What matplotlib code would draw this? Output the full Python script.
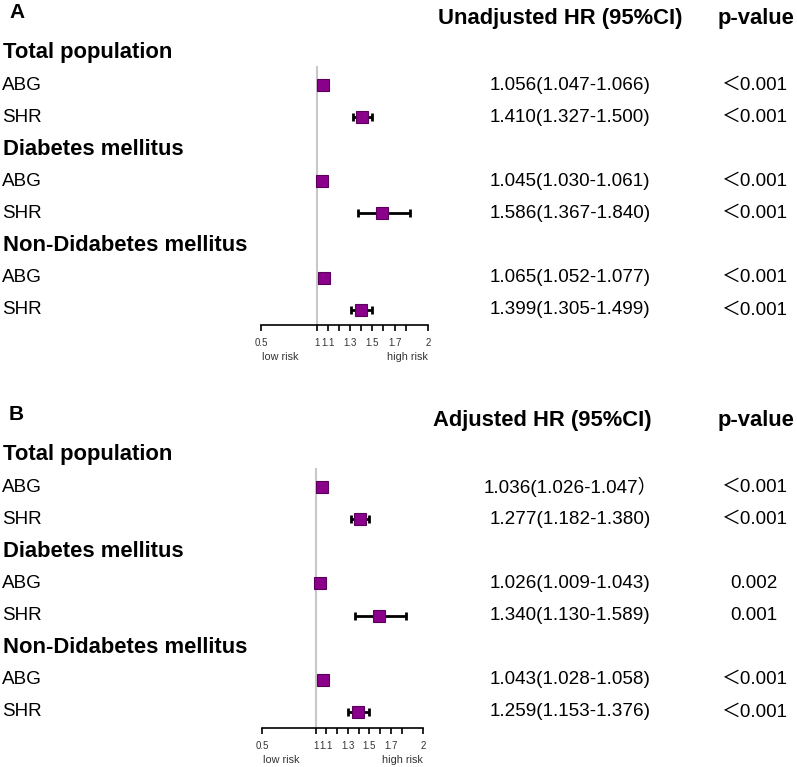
import matplotlib.pyplot as plt
import matplotlib.transforms as mtransforms
import numpy as np

plt.rcParams['font.family'] = ['Liberation Sans', 'Noto Sans CJK SC', 'DejaVu Sans']

groups = ['Total population', 'Diabetes mellitus', 'Non-Didabetes mellitus']
items = ['ABG', 'SHR']

# unadjusted model
hr_a = [1.056, 1.410, 1.045, 1.586, 1.065, 1.399]
lo_a = [1.047, 1.327, 1.030, 1.367, 1.052, 1.305]
hi_a = [1.066, 1.500, 1.061, 1.840, 1.077, 1.499]
txt_a = ['1.056(1.047-1.066)', '1.410(1.327-1.500)', '1.045(1.030-1.061)',
         '1.586(1.367-1.840)', '1.065(1.052-1.077)', '1.399(1.305-1.499)']
p_a = ['＜0.001', '＜0.001', '＜0.001', '＜0.001', '＜0.001', '＜0.001']

# adjusted model (the forest marks in panel B sit where panel A's do)
hr_b = [1.056, 1.410, 1.045, 1.586, 1.065, 1.399]
lo_b = [1.047, 1.327, 1.030, 1.367, 1.052, 1.305]
hi_b = [1.066, 1.500, 1.061, 1.840, 1.077, 1.499]
txt_b = ['1.036(1.026-1.047）', '1.277(1.182-1.380)', '1.026(1.009-1.043)',
         '1.340(1.130-1.589)', '1.043(1.028-1.058)', '1.259(1.153-1.376)']
p_b = ['＜0.001', '＜0.001', '0.002', '0.001', '＜0.001', '＜0.001']

tick_vals = [0.5, 1, 1.1, 1.3, 1.5, 1.7, 2]
tick_labels = ['0.5', '1', '1.1', '1.3', '1.5', '1.7', '2']
minor_vals = [1.2, 1.4, 1.6, 1.8]

W, H = 797, 767
fig = plt.figure(figsize=(W / 100, H / 100), dpi=100)

purple = '#8b008b'


def panel(letter, head, hr, lo, hi, txt, pv, top, x0, x1, axis_y, head_x):
    step = 32.1
    # axes spans from row -1 down to the axis line
    bottom_row = (axis_y - top) / step
    ax_top = top - step
    ax = fig.add_axes([x0 / W, 1 - axis_y / H, (x1 - x0) / W, (axis_y - ax_top) / H])
    ax.set_xlim(0.5, 2)
    ax.set_ylim(bottom_row, -1)
    for s in ['top', 'right', 'left']:
        ax.spines[s].set_visible(False)
    ax.spines['bottom'].set_linewidth(1.2)
    ax.set_yticks([])
    ax.set_xticks(tick_vals)
    ax.set_xticklabels(tick_labels, fontsize=7, color='#333333')
    ax.set_xticks(minor_vals, minor=True)
    ax.tick_params(axis='x', which='both', direction='out', length=4.5, width=1.2, pad=5)
    ax.patch.set_alpha(0)

    rows = []
    for g in range(len(groups)):
        rows += [g * 3 + 1, g * 3 + 2]
    rows = np.array(rows)
    hr = np.array(hr)
    ax.plot([1, 1], [0.45, bottom_row], color='#c8c8c8', lw=1.5, zorder=1)
    ax.errorbar(hr, rows, xerr=[hr - np.array(lo), np.array(hi) - hr], fmt='none',
                ecolor='black', elinewidth=2, capsize=3, capthick=2, zorder=2)
    ax.plot(hr, rows, 's', ms=8.8, mfc=purple, mec='#5a005a', mew=0.8, zorder=3)

    ax.annotate('low risk', xy=(0.5, 0), xycoords=('data', 'axes fraction'),
                xytext=(1, -23), textcoords='offset points', fontsize=7.8,
                color='#333333', ha='left', va='center')
    ax.annotate('high risk', xy=(2, 0), xycoords=('data', 'axes fraction'),
                xytext=(0, -23), textcoords='offset points', fontsize=7.8,
                color='#333333', ha='right', va='center')

    tr = mtransforms.blended_transform_factory(fig.transFigure, ax.transData)
    fx = lambda px: px / W
    ax.text(fx(9), -1.27, letter, transform=tr, fontsize=15, fontweight='bold',
            va='center', ha='left')
    ax.text(fx(head_x), -1.07, head, transform=tr, fontsize=15.8, fontweight='bold',
            va='center', ha='left')
    ax.text(fx(718), -1.07, 'p-value', transform=tr, fontsize=15.8, fontweight='bold',
            va='center', ha='left')
    for g, name in enumerate(groups):
        ax.text(fx(3), g * 3, name, transform=tr, fontsize=15.8, fontweight='bold',
                va='center', ha='left')
    for i, r in enumerate(rows):
        ax.text(fx(2), r, items[i % 2], transform=tr, fontsize=13.6, va='center', ha='left')
        ax.text(fx(570), r, txt[i], transform=tr, fontsize=13.6, va='center', ha='center')
        ax.text(fx(754), r, pv[i], transform=tr, fontsize=13.6, va='center', ha='center')
    return ax


panel('A', 'Unadjusted HR (95%CI)', hr_a, lo_a, hi_a, txt_a, p_a,
      top=53, x0=261, x1=428, axis_y=325, head_x=438)
panel('B', 'Adjusted HR (95%CI)', hr_b, lo_b, hi_b, txt_b, p_b,
      top=455, x0=262, x1=423, axis_y=728, head_x=433)

fig.savefig('out.png', dpi=100)
